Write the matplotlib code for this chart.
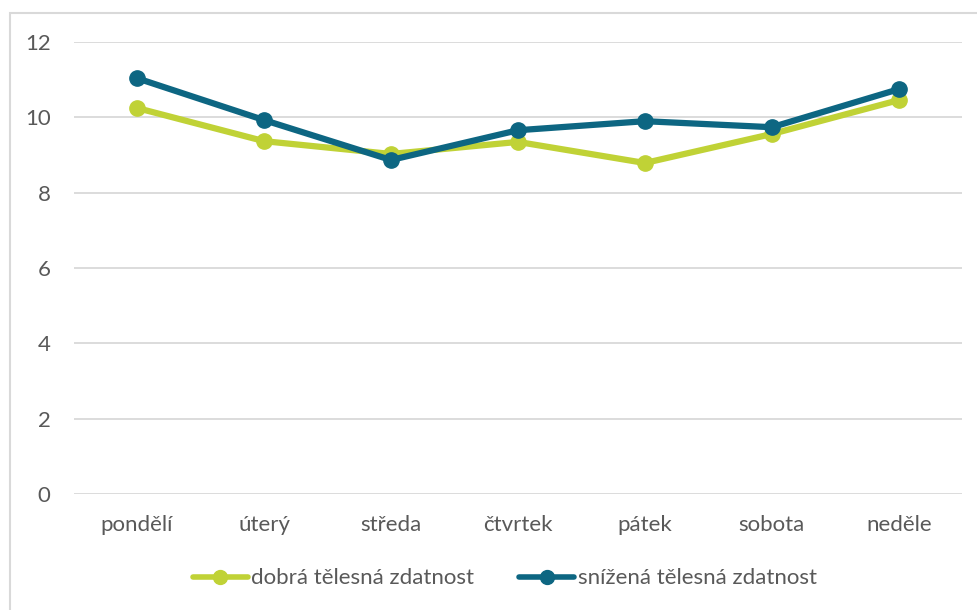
import matplotlib.pyplot as plt
from matplotlib.patches import Rectangle

days = ['pondělí', 'úterý', 'středa', 'čtvrtek', 'pátek', 'sobota', 'neděle']
good_fitness = [10.25, 9.37, 9.03, 9.35, 8.79, 9.56, 10.46]
low_fitness = [11.04, 9.93, 8.87, 9.66, 9.90, 9.74, 10.75]

green = '#c0d236'
blue = '#0d6682'
text_color = '#595959'

plt.rcParams['font.family'] = ['Lato', 'DejaVu Sans']

fig = plt.figure(figsize=(9.78, 6.10), dpi=100)
ax = fig.add_axes([0.0752, 0.190, 0.9088, 0.741])

# chart frame, partly cut off at the right and bottom
fig.patches.append(Rectangle((10 / 978, -0.05), 1.1, 1 - 13 / 610 + 0.05,
                             transform=fig.transFigure, fill=False,
                             edgecolor='#d9d9d9', linewidth=1.5))

x = range(len(days))
ax.plot(x, good_fitness, color=green, linewidth=4.5, marker='o',
        markersize=11, label='dobrá tělesná zdatnost', solid_capstyle='round')
ax.plot(x, low_fitness, color=blue, linewidth=4.5, marker='o',
        markersize=11, label='snížená tělesná zdatnost', solid_capstyle='round')

ax.set_xlim(-0.5, len(days) - 0.5)
ax.set_ylim(0, 12)
ax.set_yticks(range(0, 13, 2))
ax.set_xticks(list(x))
ax.set_xticklabels(days)
ax.grid(axis='y', color='#d9d9d9', linewidth=1.3)
ax.set_axisbelow(True)
for s in ax.spines.values():
    s.set_visible(False)
ax.tick_params(length=0, labelsize=16, colors=text_color, pad=15)
ax.tick_params(axis='y', pad=16.5)

leg = fig.legend(loc='center', bbox_to_anchor=(0.516, 0.052), ncol=2,
                 frameon=False, fontsize=16, labelcolor=text_color,
                 handlelength=2.5, handletextpad=0.15, columnspacing=2.0)
for h in leg.legend_handles:
    h.set_linewidth(4)
    h.set_markersize(10)

fig.savefig('out.png', dpi=100)
